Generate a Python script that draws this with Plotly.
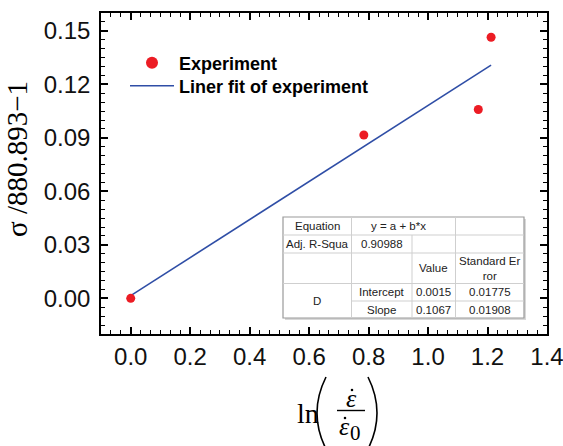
import plotly.graph_objects as go

# ---- data ----
exp_x = [0.0, 0.784, 1.169, 1.212]
exp_y = [0.0, 0.0916, 0.1059, 0.1464]
fit_x = [0.0, 1.212]
fit_y = [0.0015, 0.1308]

x_ticks = [0.0, 0.2, 0.4, 0.6, 0.8, 1.0, 1.2, 1.4]

table_rows = [
    ["Equation", "y = a + b*x", "", ""],
    ["Adj. R-Squa", "0.90988", "", ""],
    ["", "", "Value", "Standard Er<br>ror"],
    ["D", "Intercept", "0.0015", "0.01775"],
    ["", "Slope", "0.1067", "0.01908"],
]

W, H = 563, 446
L, R, T, B = 101, 16, 13, 112
PW, PH = W - L - R, H - T - B


def px(x):
    return (x - L) / PW


def py(y):
    return (H - B - y) / PH


fig = go.Figure()
fig.add_trace(go.Scatter(x=fit_x, y=fit_y, mode="lines", name="Liner fit of experiment",
                         line=dict(color="#2f4ea6", width=1.6), legend="legend2"))
fig.add_trace(go.Scatter(x=exp_x, y=exp_y, mode="markers", name="Experiment",
                         marker=dict(color="#ec1c24", size=9), legend="legend"))

axis_common = dict(showline=True, linecolor="black", linewidth=1.5, mirror="allticks",
                   ticks="inside", ticklen=7, tickwidth=1.5, tickcolor="black",
                   showgrid=False, zeroline=False, automargin=False,
                   ticklabeloverflow="allow",
                   tickfont=dict(family="Liberation Sans", size=24, color="#111"))

fig.update_xaxes(range=[-0.1, 1.40001], tickvals=x_ticks, tickformat=".1f",
                 minor=dict(dtick=0.2 / 6, tick0=0, ticks="inside", ticklen=4,
                            tickwidth=1, tickcolor="black"),
                 **axis_common)
fig.update_yaxes(range=[-0.02, 0.16], dtick=0.03, tick0=0, tickformat=".2f",
                 ticklabelstandoff=4,
                 minor=dict(dtick=0.005, tick0=0, ticks="inside", ticklen=4,
                            tickwidth=1, tickcolor="black"),
                 **axis_common)

shapes = []
annotations = []

# y-axis title
annotations.append(dict(xref="paper", yref="paper", x=px(17), y=py(159), text="σ /880.893−1",
                        textangle=-90, showarrow=False, xanchor="center", yanchor="middle",
                        font=dict(family="Liberation Serif", size=29, color="black")))

# x-axis title ln( eps_dot / eps_dot_0 )
serif = "Liberation Serif"
annotations.append(dict(xref="paper", yref="paper", x=px(307.5), y=py(413), text="ln",
                        showarrow=False, xanchor="center", yanchor="middle",
                        font=dict(family=serif, size=28, color="black")))
annotations.append(dict(xref="paper", yref="paper", x=px(351), y=py(398), text="<i>\u03b5</i>",
                        showarrow=False, xanchor="center", yanchor="middle",
                        font=dict(family=serif, size=26, color="black")))
annotations.append(dict(xref="paper", yref="paper", x=px(344), y=py(426), text="<i>\u03b5</i>",
                        showarrow=False, xanchor="center", yanchor="middle",
                        font=dict(family=serif, size=26, color="black")))
annotations.append(dict(xref="paper", yref="paper", x=px(355.5), y=py(432.5), text="0",
                        showarrow=False, xanchor="center", yanchor="middle",
                        font=dict(family=serif, size=21, color="black")))
for dx, dy in [(352, 390), (345, 418)]:
    shapes.append(dict(type="circle", xref="paper", yref="paper",
                       x0=px(dx - 1.3), x1=px(dx + 1.3), y0=py(dy - 1.3), y1=py(dy + 1.3),
                       fillcolor="black", line=dict(width=0)))
shapes.append(dict(type="line", xref="paper", yref="paper", x0=px(337), x1=px(365),
                   y0=py(410.5), y1=py(410.5), line=dict(color="black", width=1.4)))
shapes.append(dict(type="path", xref="paper", yref="paper",
                   path=f"M {px(326)} {py(377)} Q {px(308)} {py(413)} {px(326)} {py(449)}",
                   line=dict(color="black", width=1.6)))
shapes.append(dict(type="path", xref="paper", yref="paper",
                   path=f"M {px(368)} {py(377)} Q {px(386)} {py(413)} {px(368)} {py(449)}",
                   line=dict(color="black", width=1.6)))

# statistics table
cx = [283, 351.5, 412, 455.5, 524]
ry = [217, 235, 253, 283.5, 301, 318]
inner = dict(color="#cfcfcf", width=1)
shapes.append(dict(type="rect", xref="paper", yref="paper", x0=px(cx[0] + 2), x1=px(cx[4] + 2),
                   y0=py(ry[0] + 2), y1=py(ry[5] + 2), fillcolor="#d8d8d8", line=dict(width=0)))
shapes.append(dict(type="rect", xref="paper", yref="paper", x0=px(cx[0]), x1=px(cx[4]),
                   y0=py(ry[0]), y1=py(ry[5]), fillcolor="white",
                   line=dict(color="#9a9a9a", width=1.2)))
for i, yv in enumerate(ry[1:5], start=1):
    x_start = cx[1] if i == 4 else cx[0]
    shapes.append(dict(type="line", xref="paper", yref="paper", x0=px(x_start), x1=px(cx[4]),
                       y0=py(yv), y1=py(yv), line=inner))
shapes.append(dict(type="line", xref="paper", yref="paper", x0=px(cx[1]), x1=px(cx[1]),
                   y0=py(ry[0]), y1=py(ry[5]), line=inner))
shapes.append(dict(type="line", xref="paper", yref="paper", x0=px(cx[2]), x1=px(cx[2]),
                   y0=py(ry[1]), y1=py(ry[5]), line=inner))
shapes.append(dict(type="line", xref="paper", yref="paper", x0=px(cx[3]), x1=px(cx[3]),
                   y0=py(ry[0]), y1=py(ry[5]), line=inner))

tfont = dict(family="Liberation Sans", size=11.5, color="#222")
col_c = [(cx[i] + cx[i + 1]) / 2 for i in range(4)]
row_c = [(ry[i] + ry[i + 1]) / 2 for i in range(5)]
for r, row in enumerate(table_rows):
    for c, txt in enumerate(row):
        if not txt:
            continue
        xc = col_c[c]
        yc = row_c[r]
        if r == 0 and c == 1:
            xc = 398
        if r == 3 and c == 0:
            yc = (ry[3] + ry[5]) / 2
        annotations.append(dict(xref="paper", yref="paper", x=px(xc), y=py(yc), text=txt,
                                showarrow=False, xanchor="center", yanchor="middle",
                                font=tfont))

leg_font = dict(family="Liberation Sans", size=18, color="black", weight="bold")
fig.update_layout(
    width=W, height=H,
    margin=dict(l=L, r=R, t=T, b=B),
    plot_bgcolor="white", paper_bgcolor="white",
    shapes=shapes, annotations=annotations,
    showlegend=True,
    legend=dict(x=px(125), y=py(63), xanchor="left", yanchor="middle",
                bgcolor="rgba(0,0,0,0)", borderwidth=0, font=leg_font,
                itemsizing="constant", itemwidth=44),
    legend2=dict(x=px(125), y=py(86), xanchor="left", yanchor="middle",
                 bgcolor="rgba(0,0,0,0)", borderwidth=0, font=leg_font, itemwidth=44),
)

fig.write_html("out.html", config={"displayModeBar": False},
               post_script="document.body.style.margin='0';document.body.style.padding='0';")
